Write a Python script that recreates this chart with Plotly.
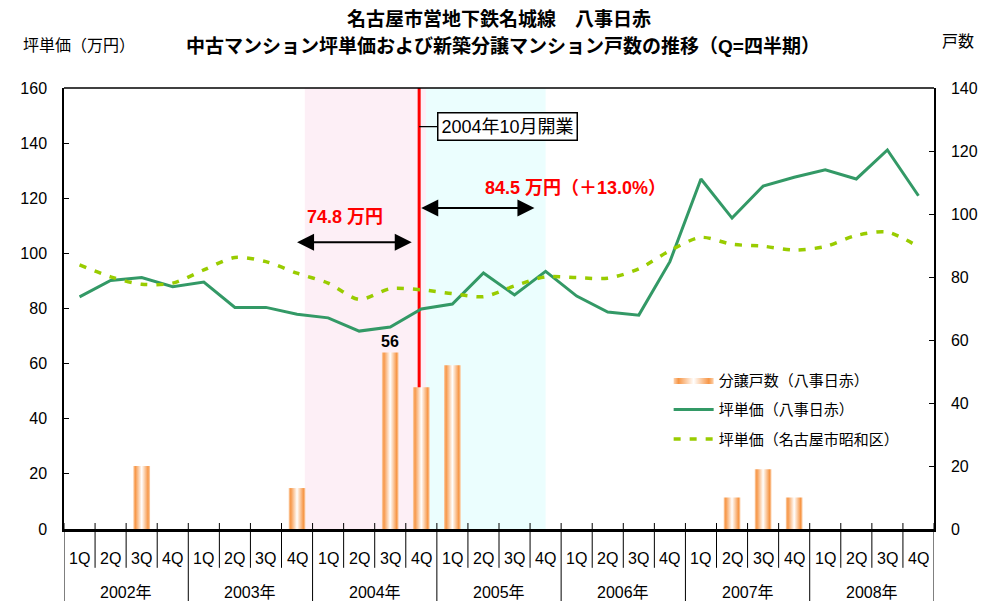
import plotly.graph_objects as go

# ---------------- data ----------------
quarters = ["1Q", "2Q", "3Q", "4Q"] * 7
years = ["2002年", "2003年", "2004年", "2005年", "2006年", "2007年", "2008年"]
units_yagoto = [0, 0, 20, 0, 0, 0, 0, 13, 0, 0, 56, 45, 52, 0, 0, 0,
                0, 0, 0, 0, 0, 10, 19, 10, 0, 0, 0, 0]
price_yagoto = [84.2, 90.2, 91.2, 87.9, 89.6, 80.4, 80.4, 77.9,
                76.6, 71.8, 73.3, 79.8, 81.6, 92.9, 84.9, 93.5,
                84.5, 78.7, 77.6, 97.0, 127.0, 112.8, 124.4, 127.6,
                130.3, 127.0, 137.5, 120.9]
price_showa = [95.8, 91.5, 88.8, 89.2, 94.0, 98.5, 97.0, 92.8,
               89.2, 83.3, 87.2, 86.8, 85.4, 84.3, 88.2, 91.5,
               91.2, 91.0, 94.4, 101.0, 105.8, 103.3, 102.6, 101.2,
               102.5, 106.5, 107.7, 102.4]
before_avg = "74.8 万円"
after_avg = "84.5 万円（＋13.0%）"
opening = "2004年10月開業"

FONT = "Liberation Sans, Arial, Noto Sans CJK JP"
xs = list(range(len(quarters)))
BAR_HALF = 0.27

fig = go.Figure()

# bars (cylinder-like gradient) drawn as filled polygons on the right axis
first = True
for i, v in enumerate(units_yagoto):
    if v <= 0:
        continue
    fig.add_trace(go.Scatter(
        x=[i - BAR_HALF, i + BAR_HALF, i + BAR_HALF, i - BAR_HALF, i - BAR_HALF],
        y=[0, 0, v, v, 0], yaxis="y2", mode="lines", line=dict(width=0, color="#F79646"),
        fill="toself",
        fillgradient=dict(type="horizontal",
                          colorscale=[[0, "#FCD3B0"], [0.12, "#F79646"], [0.5, "#FFFFFF"],
                                      [0.88, "#F79646"], [1, "#FCD3B0"]]),
        name="分譲戸数（八事日赤）", legendgroup="bars", showlegend=first,
        hoverinfo="skip"))
    first = False

fig.add_trace(go.Scatter(x=xs, y=price_yagoto, mode="lines", name="坪単価（八事日赤）",
                         legendgroup="g", line=dict(color="#339966", width=3)))
fig.add_trace(go.Scatter(x=xs, y=price_showa, mode="lines", name="坪単価（名古屋市昭和区）",
                         legendgroup="s",
                         line=dict(color="#99CC00", width=3.5, dash="7px,9px", shape="spline",
                                   smoothing=0.8)))

shapes = []
# shaded periods
shapes.append(dict(type="rect", xref="x", yref="paper", x0=7.25, x1=11.15, y0=0, y1=1,
                   fillcolor="#FDEFF6", line=dict(width=0), layer="below"))
shapes.append(dict(type="rect", xref="x", yref="paper", x0=11.15, x1=15.0, y0=0, y1=1,
                   fillcolor="#EBFEFE", line=dict(width=0), layer="below"))
# opening line
shapes.append(dict(type="line", xref="x", yref="paper", x0=10.93, x1=10.93, y0=0, y1=1,
                   line=dict(color="#FF0000", width=3), layer="below"))
# top frame
shapes.append(dict(type="line", xref="paper", yref="paper", x0=0, x1=1, y0=1, y1=1,
                   line=dict(color="black", width=1.5)))
# category separators under the axis
for k in range(len(quarters) + 1):
    xb = k - 0.5
    if k % 4 == 0:
        y0 = -0.2
    else:
        y0 = -0.088
    shapes.append(dict(type="line", xref="x", yref="paper", x0=xb, x1=xb, y0=0.0136, y1=y0,
                       line=dict(color="black", width=1)))

annotations = []
# titles
annotations.append(dict(xref="paper", yref="paper", x=0.5, y=1.155, showarrow=False,
                        text="<b>名古屋市営地下鉄名城線　八事日赤</b>",
                        font=dict(size=19, family=FONT, color="black"), yanchor="middle"))
annotations.append(dict(xref="paper", yref="paper", x=0.505, y=1.095, showarrow=False,
                        text="<b>中古マンション坪単価および新築分譲マンション戸数の推移（Q=四半期）</b>",
                        font=dict(size=19, family=FONT, color="black"), yanchor="middle"))
annotations.append(dict(xref="paper", yref="paper", x=-0.05, y=1.097, showarrow=False,
                        text="坪単価（万円）", xanchor="left", yanchor="middle",
                        font=dict(size=16, family=FONT, color="black")))
annotations.append(dict(xref="paper", yref="paper", x=1.007, y=1.105, showarrow=False,
                        text="戸数", xanchor="left", yanchor="middle",
                        font=dict(size=16, family=FONT, color="black")))
# quarter & year labels
for i, q in enumerate(quarters):
    annotations.append(dict(xref="x", yref="paper", x=i, y=-0.066, showarrow=False, text=q,
                            yanchor="middle", font=dict(size=16, family=FONT, color="black")))
for j, yname in enumerate(years):
    annotations.append(dict(xref="x", yref="paper", x=4 * j + 1.5, y=-0.143, showarrow=False,
                            text=yname, yanchor="middle",
                            font=dict(size=16, family=FONT, color="black")))
# bar value label
imax = units_yagoto.index(max(units_yagoto))
annotations.append(dict(x=imax, y=units_yagoto[imax], xref="x", yref="y2", showarrow=False,
                        text="<b>56</b>", yanchor="bottom", yshift=1,
                        font=dict(size=16, family=FONT, color="black")))
# arrows
annotations.append(dict(x=7.0, y=104, ax=10.74, ay=104, xref="x", yref="y", axref="x", ayref="y",
                        text="", showarrow=True, arrowhead=2, startarrowhead=2,
                        arrowside="end+start", arrowsize=1.7, arrowwidth=2, arrowcolor="black"))
annotations.append(dict(x=14.64, y=116.5, ax=10.95, ay=116.5, xref="x", yref="y", axref="x",
                        ayref="y", text="", showarrow=True, arrowhead=2, startarrowhead=2,
                        arrowside="end+start", arrowsize=1.7, arrowwidth=2, arrowcolor="black"))
annotations.append(dict(x=8.53, y=113.3, xref="x", yref="y", showarrow=False,
                        text="<b>" + before_avg + "</b>",
                        font=dict(size=18, family=FONT, color="#FF0000")))
annotations.append(dict(x=15.95, y=123.6, xref="x", yref="y", showarrow=False,
                        text="<b>" + after_avg + "</b>",
                        font=dict(size=18, family=FONT, color="#FF0000")))
# opening callout
annotations.append(dict(x=10.93, y=146, xref="x", yref="y", text=opening, showarrow=True,
                        arrowhead=0, arrowwidth=1.2, arrowcolor="black", ax=88, ay=0,
                        bordercolor="black", borderwidth=1.5, borderpad=3, bgcolor="white",
                        font=dict(size=18, family=FONT, color="black")))

# the page body has an 8px margin, so the figure is sized to fit the 994x601 window
fig.update_layout(
    width=986, height=593,
    margin=dict(l=50, r=60, t=80, b=72),
    paper_bgcolor="white", plot_bgcolor="white",
    font=dict(family=FONT, color="black"),
    showlegend=True,
    legend=dict(x=0.695, y=0.375, xanchor="left", yanchor="top", bgcolor="rgba(0,0,0,0)",
                font=dict(size=15, family=FONT, color="black"), tracegroupgap=7,
                traceorder="grouped", itemwidth=40),
    xaxis=dict(range=[-0.5, 27.5], showticklabels=False, ticks="", showgrid=False,
               zeroline=False, showline=True, linecolor="black", linewidth=2.5,
               fixedrange=True),
    yaxis=dict(range=[0, 160], dtick=20, ticks="inside", ticklen=5, tickcolor="black",
               showline=True, linecolor="black", linewidth=1.5, showgrid=False, zeroline=False,
               tickfont=dict(size=16, family=FONT), ticklabelstandoff=12),
    yaxis2=dict(range=[0, 140], dtick=20, ticks="inside", ticklen=5, tickcolor="black",
                overlaying="y", side="right", showline=True, linecolor="black", linewidth=1.5,
                showgrid=False, zeroline=False, tickfont=dict(size=16, family=FONT),
                ticklabelstandoff=12),
    shapes=shapes, annotations=annotations,
)

fig.write_html("out.html")
